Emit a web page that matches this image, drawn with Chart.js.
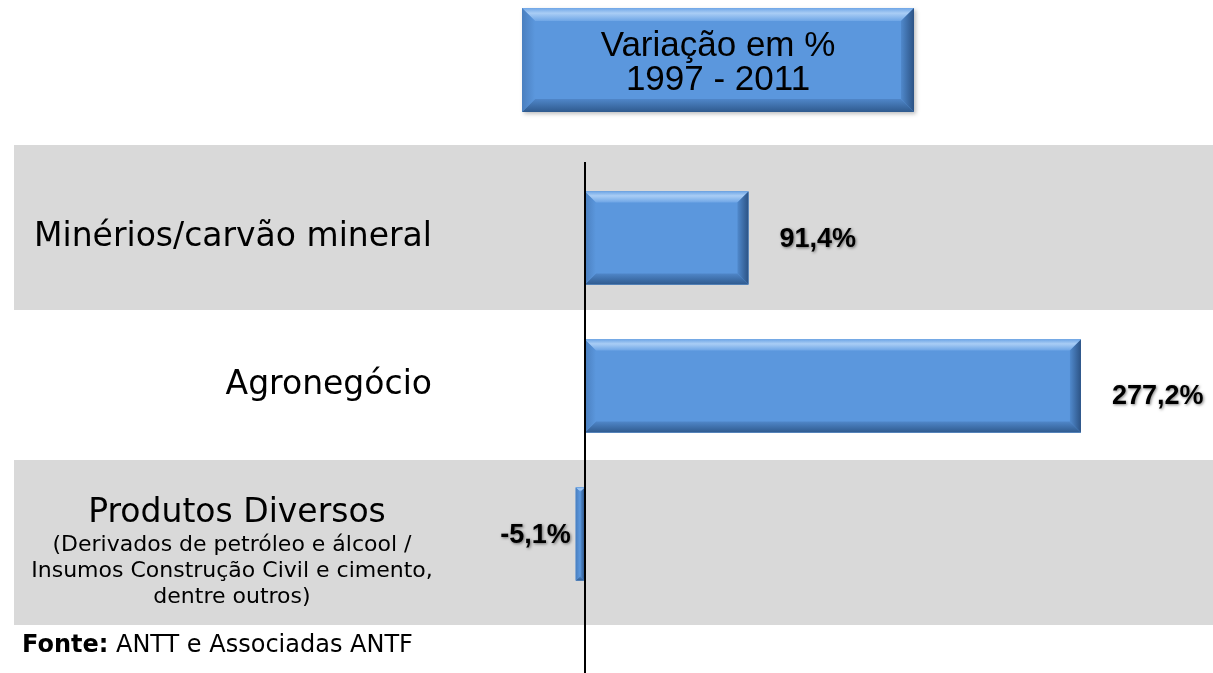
<!DOCTYPE html>
<html>
<head>
<meta charset="utf-8">
<script src="https://cdn.jsdelivr.net/npm/chart.js@4/dist/chart.umd.min.js"></script>
<style>
html,body{margin:0;padding:0;background:#fff;}
#wrap{width:1213px;height:673px;}
</style>
</head>
<body>
<div id="wrap"><canvas id="c" width="1213" height="673"></canvas></div>
<script>
// ---- data ----
const categories = ['Minérios/carvão mineral', 'Agronegócio', 'Produtos Diversos'];
const categoryNotes = [[], [], ['(Derivados de petróleo e álcool /', 'Insumos Construção Civil e cimento,', 'dentre outros)']];
const values = [91.4, 277.2, -5.1];
const titleLines = ['Variação em %', '1997 - 2011'];
const sourceBold = 'Fonte:';
const sourceText = ' ANTT e Associadas ANTF';

const BLUE = '#5b97dd';
const LABEL_FONT = '"DejaVu Sans", Tahoma, sans-serif';

function fmt(v){ return v.toFixed(1).replace('.', ',') + '%'; }

function bevelRect(ctx, x, y, w, h, b, base){
  ctx.save();
  ctx.fillStyle = base;
  ctx.fillRect(x, y, w, h);
  const bb = Math.min(b, w / 2.2, h / 2.2);
  // top
  ctx.beginPath();
  ctx.moveTo(x, y); ctx.lineTo(x + w, y); ctx.lineTo(x + w - bb, y + bb); ctx.lineTo(x + bb, y + bb); ctx.closePath();
  let g = ctx.createLinearGradient(0, y, 0, y + bb);
  g.addColorStop(0, '#6fa6e6'); g.addColorStop(0.4, '#a9cdf5'); g.addColorStop(1, '#6fa6e6');
  ctx.fillStyle = g; ctx.fill();
  // bottom
  ctx.beginPath();
  ctx.moveTo(x, y + h); ctx.lineTo(x + w, y + h); ctx.lineTo(x + w - bb, y + h - bb); ctx.lineTo(x + bb, y + h - bb); ctx.closePath();
  g = ctx.createLinearGradient(0, y + h - bb, 0, y + h);
  g.addColorStop(0, '#4f86c8'); g.addColorStop(1, '#2f5a8e');
  ctx.fillStyle = g; ctx.fill();
  // left
  ctx.beginPath();
  ctx.moveTo(x, y); ctx.lineTo(x + bb, y + bb); ctx.lineTo(x + bb, y + h - bb); ctx.lineTo(x, y + h); ctx.closePath();
  g = ctx.createLinearGradient(x, 0, x + bb, 0);
  g.addColorStop(0, '#4a7fbf'); g.addColorStop(1, '#5b97dd');
  ctx.fillStyle = g; ctx.fill();
  // right
  ctx.beginPath();
  ctx.moveTo(x + w, y); ctx.lineTo(x + w - bb, y + bb); ctx.lineTo(x + w - bb, y + h - bb); ctx.lineTo(x + w, y + h); ctx.closePath();
  g = ctx.createLinearGradient(x + w - bb, 0, x + w, 0);
  g.addColorStop(0, '#5089cc'); g.addColorStop(1, '#2c5385');
  ctx.fillStyle = g; ctx.fill();
  ctx.restore();
}

const decor = {
  id: 'decor',
  beforeDatasetsDraw(chart){
    const ctx = chart.ctx, ca = chart.chartArea, ys = chart.scales.y;
    const n = categories.length;
    const cy = i => ys.getPixelForValue(i);
    ctx.save();
    ctx.fillStyle = '#d9d9d9';
    for (let i = 0; i < n; i += 2){
      const top = i === 0 ? ca.top - 19 : (cy(i - 1) + cy(i)) / 2;
      const bot = i === n - 1 ? ca.bottom + 17 : (cy(i) + cy(i + 1)) / 2 - 2;
      ctx.fillRect(ca.left, top, ca.right - ca.left, bot - top);
    }
    ctx.restore();
  },
  afterDatasetsDraw(chart){
    const ctx = chart.ctx, ca = chart.chartArea, xs = chart.scales.x;
    const meta = chart.getDatasetMeta(0);
    meta.data.forEach((bar, i) => {
      const l = Math.min(bar.x, bar.base), r = Math.max(bar.x, bar.base);
      const t = bar.y - bar.height / 2;
      bevelRect(ctx, l, t, r - l, bar.height, 11, BLUE);
    });
    // zero axis line
    const x0 = Math.round(xs.getPixelForValue(0));
    ctx.save();
    ctx.fillStyle = '#000';
    ctx.fillRect(x0 - 1, ca.top - 2, 2, chart.height - ca.top + 2);
    ctx.restore();
    // value labels
    ctx.save();
    ctx.font = 'bold 27px "Liberation Sans", Arial, sans-serif';
    ctx.textBaseline = 'middle';
    ctx.fillStyle = '#000';
    ctx.shadowColor = 'rgba(0,0,0,0.5)';
    ctx.shadowBlur = 3;
    ctx.shadowOffsetX = 1;
    ctx.shadowOffsetY = 1;
    meta.data.forEach((bar, i) => {
      const v = values[i];
      const dy = i === 1 ? 11 : 2;
      if (v >= 0){
        ctx.textAlign = 'left';
        ctx.fillText(fmt(v), bar.x + 31, bar.y + dy);
      } else {
        ctx.textAlign = 'right';
        ctx.fillText(fmt(v), bar.x - 5, bar.y + dy);
      }
    });
    ctx.restore();
  },
  afterDraw(chart){
    const ctx = chart.ctx, ys = chart.scales.y;
    // category labels
    ctx.save();
    ctx.fillStyle = '#000';
    ctx.textBaseline = 'alphabetic';
    categories.forEach((c, i) => {
      const y = ys.getPixelForValue(i);
      const notes = categoryNotes[i];
      if (notes.length){
        ctx.textAlign = 'center';
        ctx.font = '33px ' + LABEL_FONT;
        ctx.fillText(c, 237, y - 12);
        ctx.font = '22px ' + LABEL_FONT;
        notes.forEach((s, k) => ctx.fillText(s, 232, y + 17 + k * 26));
      } else {
        ctx.textAlign = 'right';
        ctx.font = '33px ' + LABEL_FONT;
        ctx.fillText(c, 432, y + 8);
      }
    });
    // source
    ctx.textAlign = 'left';
    ctx.font = 'bold 24px ' + LABEL_FONT;
    ctx.fillText(sourceBold, 22, 652);
    const w = ctx.measureText(sourceBold).width;
    ctx.font = '24px ' + LABEL_FONT;
    ctx.fillText(sourceText, 22 + w, 652);
    // title box
    ctx.shadowColor = 'rgba(0,0,0,0.25)';
    ctx.shadowBlur = 4; ctx.shadowOffsetX = 2; ctx.shadowOffsetY = 2;
    ctx.fillStyle = BLUE;
    ctx.fillRect(522, 8, 392, 104);
    ctx.shadowColor = 'transparent';
    bevelRect(ctx, 522, 8, 392, 104, 13, BLUE);
    ctx.fillStyle = '#000';
    ctx.textAlign = 'center';
    ctx.font = '35px "Liberation Sans", Arial, sans-serif';
    ctx.fillText(titleLines[0], 718, 56);
    ctx.fillText(titleLines[1], 718, 90);
    ctx.restore();
  }
};

new Chart(document.getElementById('c').getContext('2d'), {
  type: 'bar',
  data: {
    labels: categories,
    datasets: [{ data: values, backgroundColor: BLUE, borderWidth: 0, barPercentage: 0.63, categoryPercentage: 1 }]
  },
  options: {
    indexAxis: 'y',
    responsive: false,
    animation: false,
    layout: { padding: { top: 164, bottom: 65, left: 14, right: 0 } },
    scales: {
      x: { min: -319, max: 351, display: false },
      y: { display: false }
    },
    plugins: { legend: { display: false }, tooltip: { enabled: false } }
  },
  plugins: [decor]
});
</script>
</body>
</html>
